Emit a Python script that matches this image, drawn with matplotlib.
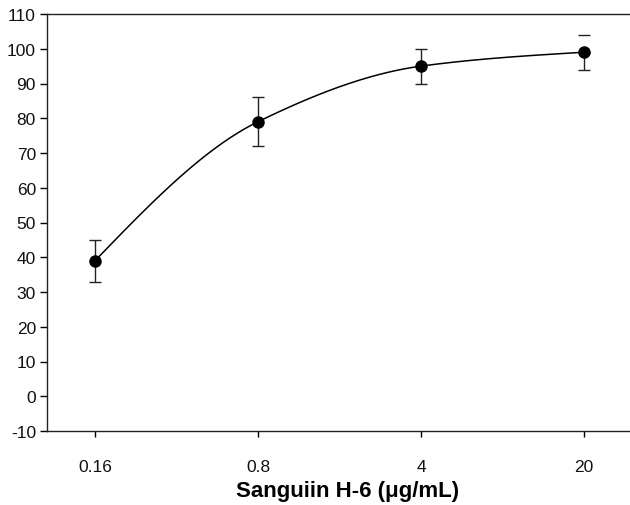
import numpy as np
import matplotlib
matplotlib.use("Agg")
import matplotlib.pyplot as plt

conc = [0.16, 0.8, 4, 20]
conc_labels = ["0.16", "0.8", "4", "20"]
response = [39, 79, 95, 99]
err_low = [6, 7, 5, 5]
err_high = [6, 7, 5, 5]
yticks = list(range(-10, 111, 10))

plt.rcParams['font.family'] = ['Liberation Sans', 'DejaVu Sans']

fig = plt.figure(figsize=(6.3, 5.06), dpi=100)
ax = fig.add_axes([47/630, 1-432/506, 583/630, 417/506])
ax.set_xscale('log')

# smooth monotone cubic connector in log-x space
lx = np.log10(conc)
yv = np.array(response, float)
h = np.diff(lx)
d = np.diff(yv) / h
m = np.zeros_like(yv)
for i in range(1, len(yv)-1):
    if d[i-1]*d[i] > 0:
        w1 = 2*h[i] + h[i-1]; w2 = h[i] + 2*h[i-1]
        m[i] = (w1 + w2) / (w1/d[i-1] + w2/d[i])
m[0] = (3*d[0] - m[1]) / 2
m[-1] = max(0, (3*d[-1] - m[-2]) / 2)
xs, ys = [], []
for i in range(len(h)):
    t = np.linspace(0, 1, 60)
    h00 = 2*t**3 - 3*t**2 + 1; h10 = t**3 - 2*t**2 + t
    h01 = -2*t**3 + 3*t**2; h11 = t**3 - t**2
    yy = h00*yv[i] + h10*h[i]*m[i] + h01*yv[i+1] + h11*h[i]*m[i+1]
    xs.extend(10**(lx[i] + t*h[i])); ys.extend(yy)
ax.plot(xs, ys, color='black', lw=1.1, zorder=2)

# error bars: last point only shows a detached upper cap
up = list(err_high)
up[-1] = 0
ax.errorbar(conc, response, yerr=[err_low, up], fmt='none', ecolor='#222222',
            elinewidth=1.0, capsize=4, capthick=1.0, zorder=3)
ax.plot([conc[-1]], [response[-1] + err_high[-1]], marker='_', ms=8, mew=1.0,
        color='#222222', ls='none', zorder=3)
ax.plot(conc, response, 'o', color='black', ms=8, zorder=4)

left = conc[0] / 5**(48/163)
right = conc[-1] * 5**(46/163)
ax.set_xlim(left, right)
ax.set_ylim(-10, 110)
ax.set_xticks(conc)
ax.set_xticklabels(conc_labels)
ax.xaxis.set_minor_locator(matplotlib.ticker.NullLocator())
ax.set_yticks(yticks)
ax.set_yticklabels([str(v) for v in yticks])

for s in ['left', 'bottom', 'top']:
    ax.spines[s].set_linewidth(1.0)
    ax.spines[s].set_color('#222222')
ax.spines['right'].set_visible(False)

ax.tick_params(axis='y', direction='out', length=5, width=1, labelsize=12.5, pad=3)
ax.tick_params(axis='x', direction='out', length=4, width=1, labelsize=12.5, pad=16)
for lab in ax.get_yticklabels() + ax.get_xticklabels():
    lab.set_color('#111111')
    lab.set_fontweight('medium')

ax.set_xlabel('Sanguiin H-6 (μg/mL)', fontsize=16, fontweight='bold')
ax.xaxis.set_label_coords((348 - 47) / 583, -(492 - 432) / 417)
ax.xaxis.label.set_verticalalignment('center')

fig.savefig('out.png', dpi=100)
